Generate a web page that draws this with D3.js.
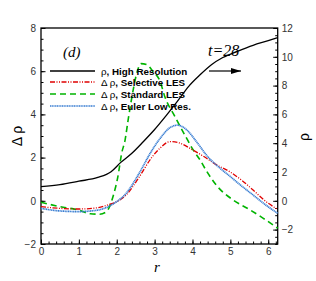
<!DOCTYPE html>
<html>
<head>
<meta charset="utf-8">
<script src="https://cdn.jsdelivr.net/npm/d3@7"></script>
<style>
  body { margin: 0; background: #fff; }
  svg { display: block; font-family: Arial, "Liberation Sans", sans-serif; }
</style>
</head>
<body>
<svg id="chart" width="316" height="281"></svg>
<script>
// rho, high resolution (right axis)
var rHigh = [0, 0.5, 1.0, 1.5, 1.85, 2.1, 2.4, 2.7, 3.0, 3.3, 3.6, 3.9, 4.2, 4.5, 4.8, 5.2, 5.6, 6.0, 6.25];
var rhoHigh = [0.98, 1.12, 1.36, 1.62, 2.02, 2.65, 3.3, 4.1, 4.95, 5.9, 6.9, 7.95, 8.75, 9.45, 9.95, 10.4, 10.8, 11.12, 11.33];

// delta rho, selective LES
var rSel = [0, 0.5, 1.0, 1.5, 1.8, 2.0, 2.25, 2.6, 2.9, 3.15, 3.4, 3.65, 4.0, 4.3, 4.6, 5.0, 5.3, 5.6, 5.9, 6.25];
var dSel = [-0.27, -0.35, -0.38, -0.32, -0.17, -0.04, 0.27, 1.12, 1.95, 2.45, 2.74, 2.68, 2.36, 2.05, 1.70, 1.33, 0.95, 0.50, 0.02, -0.40];

// delta rho, standard LES
var rStd = [0, 0.5, 1.0, 1.3, 1.55, 1.73, 1.9, 2.03, 2.13, 2.22, 2.3, 2.4, 2.52, 2.64, 2.8, 2.95, 3.14, 3.27, 3.54, 3.84, 4.02, 4.2, 4.37, 4.64, 5.07, 5.5, 5.87, 6.25];
var dStd = [-0.07, -0.27, -0.43, -0.6, -0.62, -0.5, 0.19, 1.12, 2.2, 2.81, 3.74, 4.8, 5.85, 6.35, 6.3, 6.0, 5.55, 4.82, 3.89, 2.91, 2.35, 1.89, 1.38, 0.7, 0.04, -0.4, -0.81, -1.27];

// delta rho, euler low res
var rLow = [0, 0.5, 1.0, 1.5, 1.8, 2.0, 2.25, 2.6, 2.9, 3.15, 3.4, 3.6, 3.85, 4.1, 4.4, 4.7, 5.0, 5.3, 5.6, 5.9, 6.25];
var dLow = [-0.35, -0.47, -0.50, -0.43, -0.25, -0.04, 0.35, 1.30, 2.25, 2.90, 3.38, 3.50, 3.28, 2.75, 2.05, 1.55, 1.12, 0.68, 0.27, -0.15, -0.58];

var xTicks = [0, 1, 2, 3, 4, 5, 6];
var yLeftTicks = [-2, 0, 2, 4, 6, 8];
var yRightTicks = [-2, 0, 2, 4, 6, 8, 10, 12];

var legendLabels = [
    {sym: "\u03C1", txt: ", High Resolution"},
    {sym: "\u0394 \u03C1", txt: ", Selective LES"},
    {sym: "\u0394 \u03C1", txt: ", Standard LES"},
    {sym: "\u0394 \u03C1", txt: ", Euler Low Res."}
];

var SERIF = "'Liberation Serif', 'DejaVu Serif', serif";
var SANS = "Arial, 'Liberation Sans', sans-serif";

var svg = d3.select("#chart");
var pLeft = 41, pRight = 277.7, pTop = 28, pBottom = 244;

var x = d3.scaleLinear().domain([0, 6.25]).range([pLeft, pRight]);
var yL = d3.scaleLinear().domain([-2, 8]).range([pBottom, pTop]);
var yR = d3.scaleLinear().domain([-3, 12]).range([pBottom, pTop]);

function zip(a, b) {
    return a.map(function(v, i) { return [v, b[i]]; });
}

// axes, ticks pointing inward
var gx = svg.append("g").attr("transform", "translate(0," + pBottom + ")")
    .call(d3.axisTop(x).tickValues(d3.range(0, 6.21, 0.2)).tickSize(2.5).tickFormat(""));
gx.append("g").call(d3.axisTop(x).tickValues(xTicks).tickSize(4.5).tickFormat(""));
gx.selectAll(".domain").remove();
svg.append("g").attr("transform", "translate(0," + pBottom + ")")
    .call(d3.axisBottom(x).tickValues(xTicks).tickSize(0).tickPadding(4).tickFormat(d3.format("d")))
    .call(function(g) { g.select(".domain").remove(); });

var gl = svg.append("g").attr("transform", "translate(" + pLeft + ",0)")
    .call(d3.axisRight(yL).tickValues(d3.range(-2, 8.01, 0.5)).tickSize(2.5).tickFormat(""));
gl.append("g").call(d3.axisRight(yL).tickValues(yLeftTicks).tickSize(4.5).tickFormat(""));
gl.selectAll(".domain").remove();
svg.append("g").attr("transform", "translate(" + pLeft + ",0)")
    .call(d3.axisLeft(yL).tickValues(yLeftTicks).tickSize(0).tickPadding(5).tickFormat(d3.format("d")))
    .call(function(g) { g.select(".domain").remove(); });

var gr = svg.append("g").attr("transform", "translate(" + pRight + ",0)")
    .call(d3.axisLeft(yR).tickValues(d3.range(-3, 12.01, 0.5)).tickSize(2.5).tickFormat(""));
gr.append("g").call(d3.axisLeft(yR).tickValues(yRightTicks).tickSize(4.5).tickFormat(""));
gr.selectAll(".domain").remove();
svg.append("g").attr("transform", "translate(" + pRight + ",0)")
    .call(d3.axisRight(yR).tickValues(yRightTicks).tickSize(0).tickPadding(4).tickFormat(d3.format("d")))
    .call(function(g) { g.select(".domain").remove(); });

svg.selectAll(".tick line").attr("stroke", "#000").attr("stroke-width", 1);
svg.selectAll(".tick text").attr("font-size", 10).attr("fill", "#333").attr("font-family", SANS);

svg.append("rect")
    .attr("x", pLeft).attr("y", pTop)
    .attr("width", pRight - pLeft).attr("height", pBottom - pTop)
    .attr("fill", "none").attr("stroke", "#000").attr("stroke-width", 1.3);

// curves
var lineL = d3.line().x(function(d) { return x(d[0]); }).y(function(d) { return yL(d[1]); }).curve(d3.curveMonotoneX);
var lineR = d3.line().x(function(d) { return x(d[0]); }).y(function(d) { return yR(d[1]); }).curve(d3.curveMonotoneX);

var styles = [
    {color: "#000000", dash: null, width: 1.3},
    {color: "#e00000", dash: "5,1.5,1,1.5,1,1.5", width: 1.3},
    {color: "#00b400", dash: "6,4", width: 1.6},
    {color: "#3a7ed2", dash: "1.2,0.5", width: 1.7}
];

var plot = svg.append("g");
var series = [
    {data: zip(rStd, dStd), line: lineL, s: styles[2]},
    {data: zip(rSel, dSel), line: lineL, s: styles[1]},
    {data: zip(rLow, dLow), line: lineL, s: styles[3]},
    {data: zip(rHigh, rhoHigh), line: lineR, s: styles[0]}
];
series.forEach(function(d) {
    plot.append("path").datum(d.data).attr("d", d.line)
        .attr("fill", "none").attr("stroke", d.s.color)
        .attr("stroke-width", d.s.width).attr("stroke-dasharray", d.s.dash);
});

// legend
var legend = svg.append("g");
legendLabels.forEach(function(l, i) {
    var yy = [71, 82, 94, 106][i];
    var s = styles[i];
    legend.append("line").attr("x1", 50).attr("x2", 95).attr("y1", yy).attr("y2", yy)
        .attr("stroke", s.color).attr("stroke-width", s.width).attr("stroke-dasharray", s.dash);
    var t = legend.append("text").attr("x", 101).attr("y", yy + 3.5).attr("font-size", 9.8)
        .attr("font-family", SANS);
    t.append("tspan").text(l.sym);
    t.append("tspan").attr("font-weight", "bold").text(l.txt);
});

// annotations
svg.append("text").attr("x", 63).attr("y", 57)
    .attr("font-family", SERIF).attr("font-style", "italic")
    .attr("font-size", 15).text("(d)");
svg.append("text").attr("x", 208).attr("y", 56)
    .attr("font-family", SERIF).attr("font-style", "italic")
    .attr("font-size", 16).text("t=28");

svg.append("defs").append("marker").attr("id", "arrow")
    .attr("viewBox", "0 0 10 6").attr("refX", 10).attr("refY", 3)
    .attr("markerWidth", 10).attr("markerHeight", 6).attr("markerUnits", "userSpaceOnUse")
    .attr("orient", "auto")
    .append("path").attr("d", "M0,0L10,3L0,6Z").attr("fill", "#000");
svg.append("line").attr("x1", 209).attr("x2", 241).attr("y1", 71).attr("y2", 71)
    .attr("stroke", "#000").attr("stroke-width", 1.2).attr("marker-end", "url(#arrow)");

// axis titles
svg.append("text").attr("transform", "translate(22,136) rotate(-90)")
    .attr("text-anchor", "middle").attr("font-size", 14).attr("font-family", SANS).text("\u0394 \u03C1");
svg.append("text").attr("transform", "translate(309,137) rotate(-90)")
    .attr("text-anchor", "middle").attr("font-size", 14).attr("font-family", SANS).text("\u03C1");
svg.append("text").attr("x", 157).attr("y", 272).attr("text-anchor", "middle")
    .attr("font-family", SERIF).attr("font-style", "italic")
    .attr("font-size", 15).text("r");
</script>
</body>
</html>
